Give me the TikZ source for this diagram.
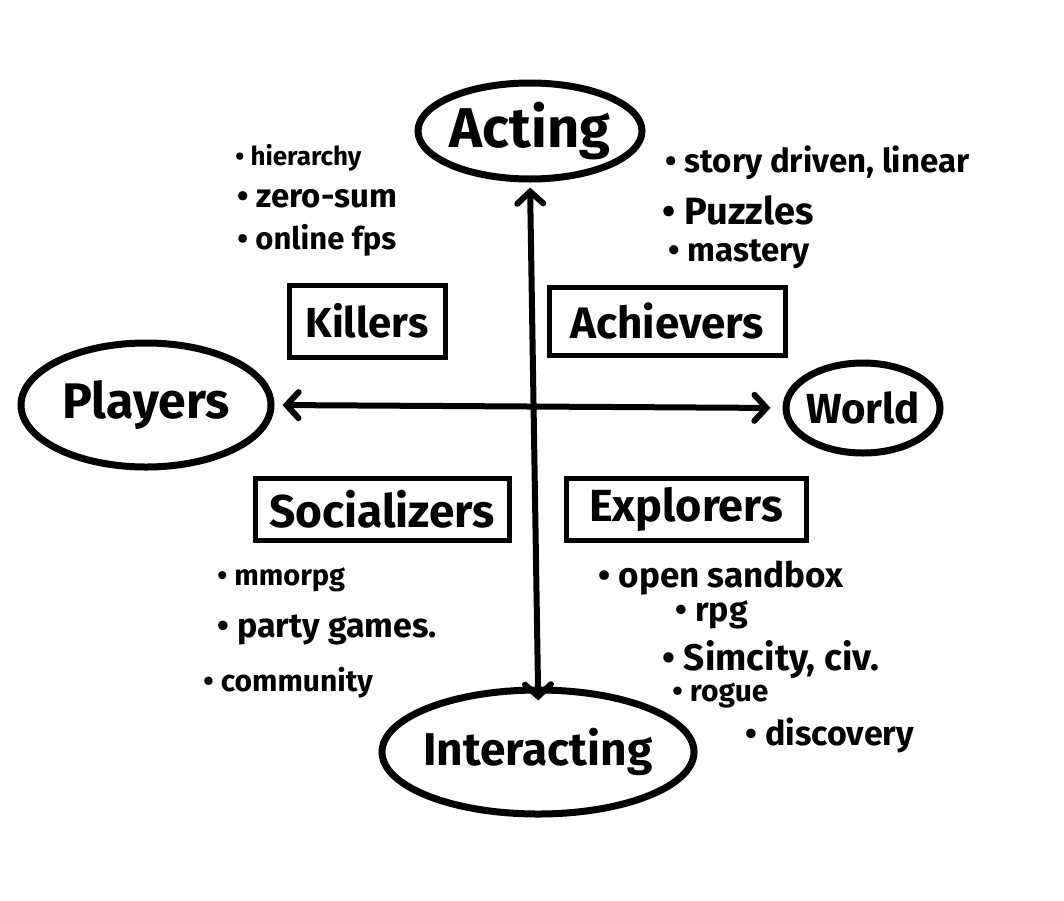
\documentclass[tikz,border=0pt]{standalone}
\usepackage{fontspec}
\setmainfont{Fira Sans}
\usetikzlibrary{arrows.meta,shapes.geometric}
\newcommand{\fsz}[1]{\fontsize{#1}{#1}\selectfont\bfseries}

\begin{document}
\begin{tikzpicture}[
  x=0.5pt, y=-0.5pt,
  oval/.style={ellipse, draw=black, line width=3.5pt, inner sep=0pt},
  box/.style={draw=black, line width=2.5pt, inner sep=0pt},
  note/.style={anchor=west, inner sep=0pt},
  tip/.style={Straight Barb[length=6pt,width=13pt,line width=3pt,line cap=round]},
  a/.style={{Straight Barb[length=6pt,width=13pt,line cap=round]}-{Straight Barb[length=6pt,width=13pt,line cap=round]}, line width=3pt}
]
\useasboundingbox (0,0) rectangle (1064,900);
% the four poles
\node[oval, minimum width=112pt, minimum height=48pt, font=\fsz{28}] (act) at (530,131) {\makebox[0pt]{Acting}};
\node[oval, minimum width=156pt, minimum height=62pt, font=\fsz{23}] (int) at (538,752) {\makebox[0pt]{Interacting}};
\node[oval, minimum width=125pt, minimum height=62pt, font=\fsz{25}] (ply) at (146,405) {\makebox[0pt]{Players}};
\node[oval, minimum width=77pt, minimum height=45pt, font=\fsz{21}] (wld) at (863,408) {\makebox[0pt]{World}};
% axes
\draw[a, shorten <=2.5pt, shorten >=-7pt] (act.south) -- (int.north);
\draw[a, shorten <=4pt, shorten >=6pt] (ply.east) -- (wld.west);
% player types
\node[box, minimum width=78pt, minimum height=36pt, font=\fsz{21}] (kil) at (367,321) {Killers};
\node[box, minimum width=118pt, minimum height=34pt, font=\fsz{22}] (ach) at (667,321) {Achievers};
\node[box, minimum width=127pt, minimum height=31pt, font=\fsz{23}] (soc) at (382,509) {Socializers};
\node[box, minimum width=120pt, minimum height=31pt, font=\fsz{22.5}] (exp) at (686,509) {Explorers};
% examples
\node[note, font=\fsz{13}] (k1) at (235,158) {• hierarchy};
\node[note, font=\fsz{16.5}] (k2) at (237,199) {• zero-sum};
\node[note, font=\fsz{15.5}] (k3) at (237,240) {• online fps};
\node[note, font=\fsz{16.5}] (a1) at (665,163) {• story driven, linear};
\node[note, font=\fsz{19}] (a2) at (662,210) {• Puzzles};
\node[note, font=\fsz{16.5}] (a3) at (668,254) {• mastery};
\node[note, font=\fsz{14.5}] (s1) at (217,580) {• mmorpg};
\node[note, font=\fsz{17}] (s2) at (217,630) {• party games.};
\node[note, font=\fsz{15}] (s3) at (203,683) {• community};
\node[note, font=\fsz{17.5}] (e1) at (598,578) {• open sandbox};
\node[note, font=\fsz{17}] (e2) at (675,615) {• rpg};
\node[note, font=\fsz{18.5}] (e3) at (662,660) {• Simcity, civ.};
\node[note, font=\fsz{15}] (e4) at (672,696) {• rogue};
\node[note, font=\fsz{17}] (e5) at (745,735) {• discovery};
\end{tikzpicture}
\end{document}
